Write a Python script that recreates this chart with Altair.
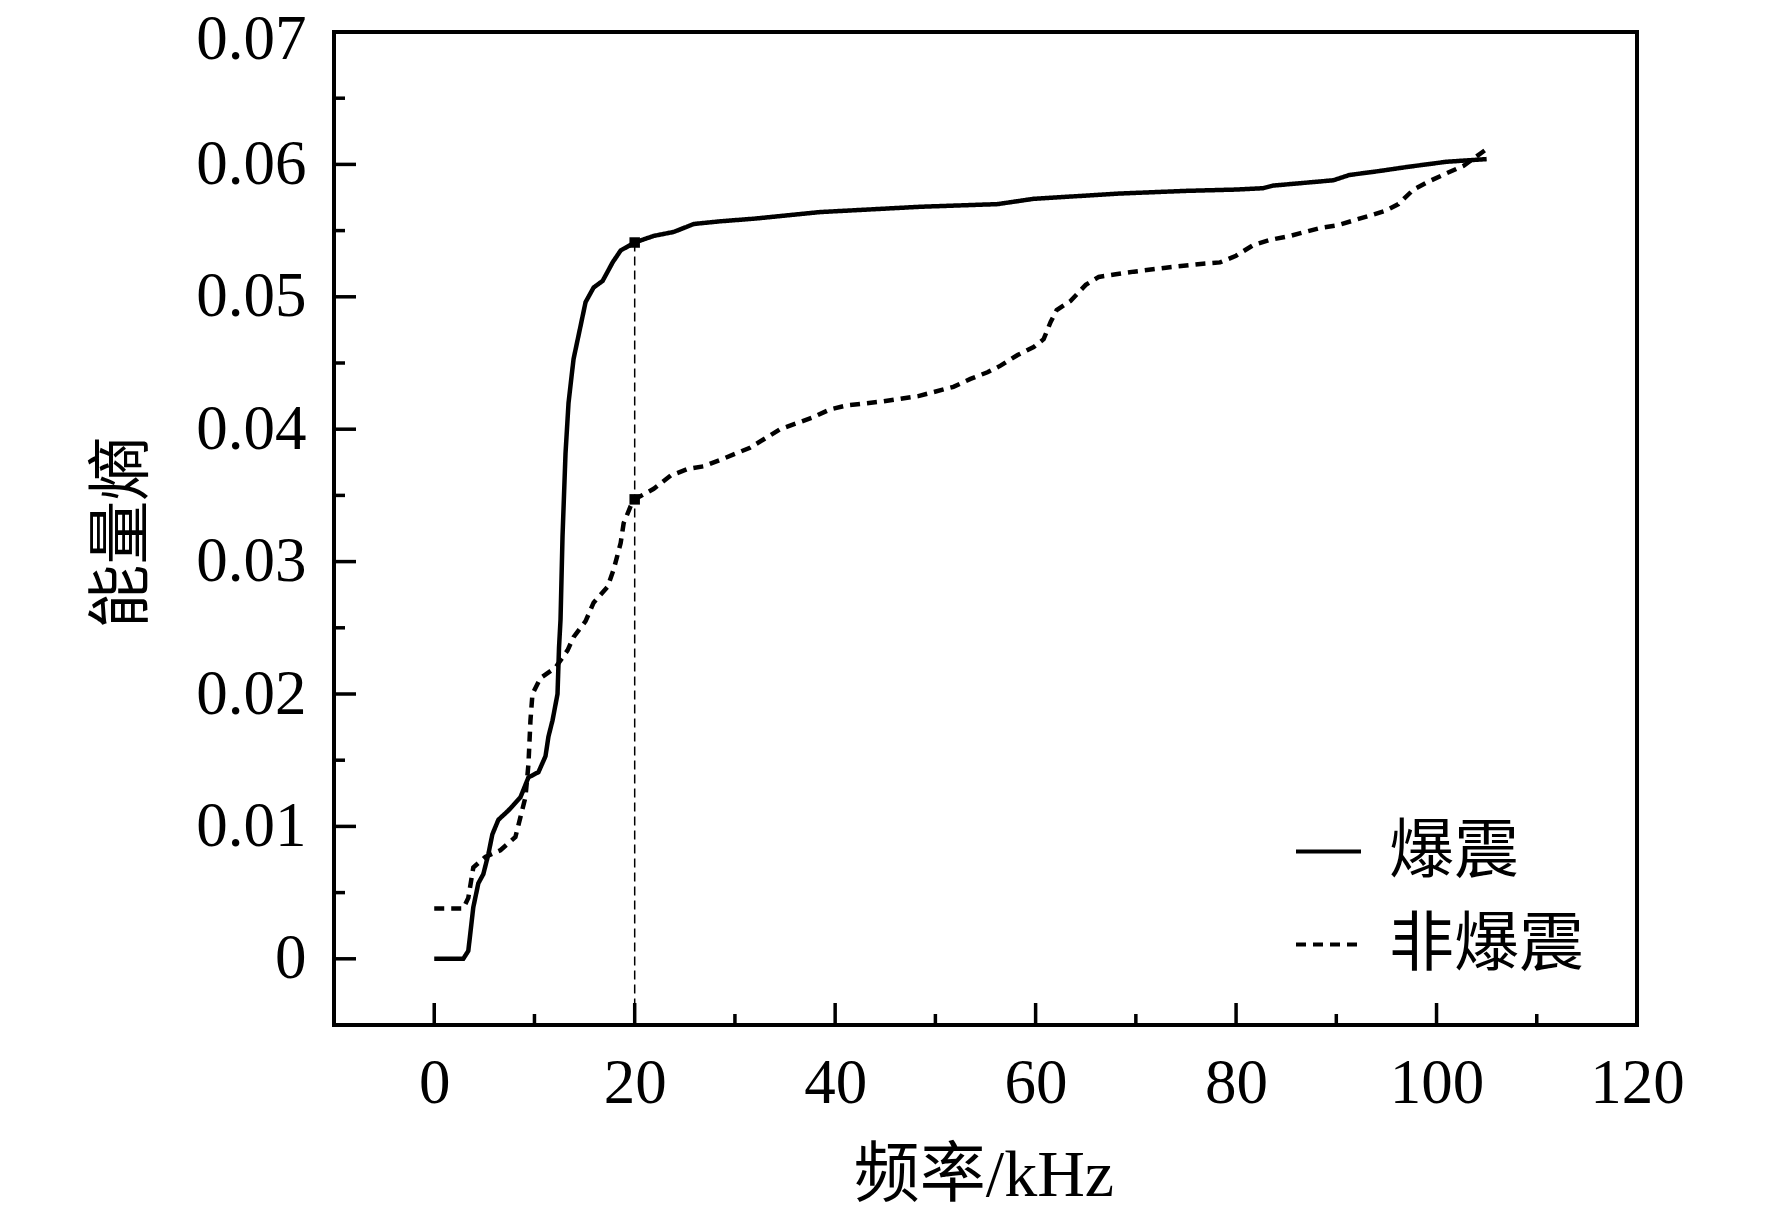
import altair as alt
import pandas as pd

# 爆震 (knock) curve
knock_x = [0, 2.9, 3.4, 3.9, 4.4, 4.9, 5.4, 5.8, 6.4, 7.4, 8.6, 9.4, 10.4, 11.1, 11.4,
           11.8, 12.3, 12.45, 12.6, 12.8, 13.1, 13.4, 13.9, 14.6, 15.1, 15.9, 16.8, 17.8, 18.6, 20.0,
           21.9, 23.9, 25.9, 28.5, 31.9, 38.5, 48.5, 56.2, 59.8, 68.4, 75.0, 80.0, 82.7, 83.7, 89.7,
           91.3, 94.3, 97.0, 101.0, 105.0]
knock_y = [0, 0, 0.0006, 0.0039, 0.0057, 0.0064, 0.0079, 0.0094, 0.0105, 0.0112, 0.0122, 0.0137, 0.0141, 0.0153, 0.0168,
           0.0180, 0.0200, 0.0235, 0.0256, 0.0319, 0.0382, 0.0420, 0.0453, 0.0478, 0.0496, 0.0507, 0.0512, 0.0526, 0.0535, 0.0541,
           0.0546, 0.0549, 0.0555, 0.0557, 0.0559, 0.0564, 0.0568, 0.0570, 0.0574, 0.0578, 0.0580, 0.0581, 0.0582, 0.0584, 0.0588,
           0.0592, 0.0595, 0.0598, 0.0602, 0.0604]

# 非爆震 (non-knock) curve
normal_x = [0, 2.9, 3.4, 3.9, 5.1, 6.6, 8.1, 8.6, 9.1, 9.4, 9.6, 9.8, 10.6, 12.1, 13.3,
            13.9, 15.1, 15.9, 17.3, 17.9, 18.6, 18.9, 19.6, 20.0, 21.9, 23.6, 25.3, 26.9, 28.6, 31.5,
            32.8, 34.5, 37.8, 39.5, 41.2, 44.8, 48.3, 51.8, 53.5, 55.2, 56.5, 58.2, 59.8, 60.8, 61.5,
            62.1, 63.5, 65.0, 66.3, 68.0, 69.8, 73.0, 76.7, 78.4, 80.0, 81.7, 83.4, 85.4, 88.4, 90.1,
            93.2, 94.9, 96.2, 97.7, 99.2, 100.9, 102.7, 104.9]
normal_y = [0.0038, 0.0038, 0.0046, 0.0069, 0.0077, 0.0082, 0.0092, 0.0107, 0.0122, 0.0147, 0.0180, 0.0200, 0.0212, 0.0220, 0.0233,
            0.0243, 0.0255, 0.0269, 0.0281, 0.0294, 0.0314, 0.0329, 0.0342, 0.0347, 0.0355, 0.0365, 0.0370, 0.0372, 0.0377, 0.0386,
            0.0392, 0.0400, 0.0409, 0.0415, 0.0418, 0.0421, 0.0425, 0.0432, 0.0438, 0.0443, 0.0448, 0.0456, 0.0462, 0.0468, 0.0481,
            0.0490, 0.0497, 0.0509, 0.0515, 0.0517, 0.0519, 0.0522, 0.0525, 0.0526, 0.0531, 0.0539, 0.0543, 0.0546, 0.0552, 0.0554,
            0.0561, 0.0565, 0.0570, 0.0581, 0.0587, 0.0593, 0.0599, 0.0611]

series_names = ["爆震", "非爆震"]

# marked points at 20 kHz and guide line
mark_x = [20, 20]
mark_y = [0.0541, 0.0347]
guide_x = [20]
guide_top = [0.0541]
guide_bottom = [-0.005]

# axis ticks
x_label_values = [0, 20, 40, 60, 80, 100, 120]
x_major = [0, 20, 40, 60, 80, 100]
x_minor = [10, 30, 50, 70, 90, 110]
y_label_values = [0, 0.01, 0.02, 0.03, 0.04, 0.05, 0.06, 0.07]
y_major = [0, 0.01, 0.02, 0.03, 0.04, 0.05, 0.06]
y_minor = [0.005, 0.015, 0.025, 0.035, 0.045, 0.055, 0.065]

x_domain = [-10, 120]
y_domain = [-0.005, 0.07]

W, H = 1303, 993
LATIN = "Liberation Serif"
MIXED = "Liberation Serif, Noto Sans CJK SC"

rows = []
for i, (a, b) in enumerate(zip(knock_x, knock_y)):
    rows.append({"series": series_names[0], "x": a, "y": b, "o": i})
for i, (a, b) in enumerate(zip(normal_x, normal_y)):
    rows.append({"series": series_names[1], "x": a, "y": b, "o": i})
df = pd.DataFrame(rows)

xs = alt.Scale(domain=x_domain, nice=False, zero=False)
ys = alt.Scale(domain=y_domain, nice=False, zero=False)

x_axis = alt.Axis(
    values=x_label_values, ticks=False, tickSize=0, domain=False, grid=False,
    labelFont=LATIN, labelFontSize=63, labelColor="black", labelPadding=58,
    labelBaseline="middle", labelFlush=False,
    title="频率/kHz", titleFont=MIXED, titleFontSize=66, titleFontWeight="normal",
    titleColor="black", titleBaseline="middle", titleY=150, titleX=W / 2 - 2)
y_axis = alt.Axis(
    values=y_label_values, ticks=False, tickSize=0, domain=False, grid=False,
    labelFont=LATIN, labelFontSize=63, labelColor="black", labelPadding=28,
    labelOffset={"condition": {"test": "datum.value > 0.069", "value": 7}, "value": 0},
    labelExpr="datum.value == 0 ? '0' : format(datum.value, '.2f')", labelFlush=False,
    title="能量熵", titleFont=MIXED, titleFontSize=64, titleFontWeight="normal",
    titleColor="black", titleAngle=270, titleBaseline="middle", titleAlign="center",
    titleX=-212, titleY=500)


def X(field="x"):
    return alt.X(f"{field}:Q", scale=xs, axis=x_axis)


def Y(field="y"):
    return alt.Y(f"{field}:Q", scale=ys, axis=y_axis)


lines = alt.Chart(df).mark_line(color="black", strokeWidth=4.5, strokeCap="butt").encode(
    x=X(),
    y=Y(),
    strokeDash=alt.StrokeDash("series:N", sort=series_names,
        scale=alt.Scale(domain=series_names, range=[[1, 0], [10, 7]]),
        legend=alt.Legend(orient="none", legendX=960, legendY=785, title=None,
                          symbolType="stroke", symbolSize=4225, symbolStrokeWidth=4,
                          symbolStrokeColor="black", labelFont=MIXED, labelFontSize=65,
                          labelColor="black", labelOffset=26, rowPadding=25, padding=0,
                          labelLimit=600)),
    order="o:Q",
)

guide = alt.Chart(pd.DataFrame({"x": guide_x, "y": guide_top, "y2": guide_bottom})).mark_rule(
    color="black", strokeWidth=1.5, strokeDash=[9, 5]).encode(
    x=X(), y=Y(), y2="y2:Q",
)

squares = alt.Chart(pd.DataFrame({"x": mark_x, "y": mark_y})).mark_square(
    color="black", opacity=1, size=110).encode(x=X(), y=Y())

xt_major = alt.Chart(pd.DataFrame({"x": x_major})).mark_rule(color="black", strokeWidth=3.5).encode(
    x=X(), y=alt.value(H), y2=alt.value(H - 22))
xt_minor = alt.Chart(pd.DataFrame({"x": x_minor})).mark_rule(color="black", strokeWidth=3.5).encode(
    x=X(), y=alt.value(H), y2=alt.value(H - 11))
yt_major = alt.Chart(pd.DataFrame({"y": y_major})).mark_rule(color="black", strokeWidth=3.5).encode(
    y=Y(), x=alt.value(0), x2=alt.value(22))
yt_minor = alt.Chart(pd.DataFrame({"y": y_minor})).mark_rule(color="black", strokeWidth=3.5).encode(
    y=Y(), x=alt.value(0), x2=alt.value(11))

chart = alt.layer(lines, guide, squares, xt_major, xt_minor, yt_major, yt_minor).properties(
    width=W, height=H,
    autosize=alt.AutoSizeParams(type="none"),
    padding={"left": 326, "top": 24, "right": 120, "bottom": 190},
    background="white",
).configure_view(stroke="black", strokeWidth=4)

chart.save("out.html", embed_options={"renderer": "svg", "actions": False})
